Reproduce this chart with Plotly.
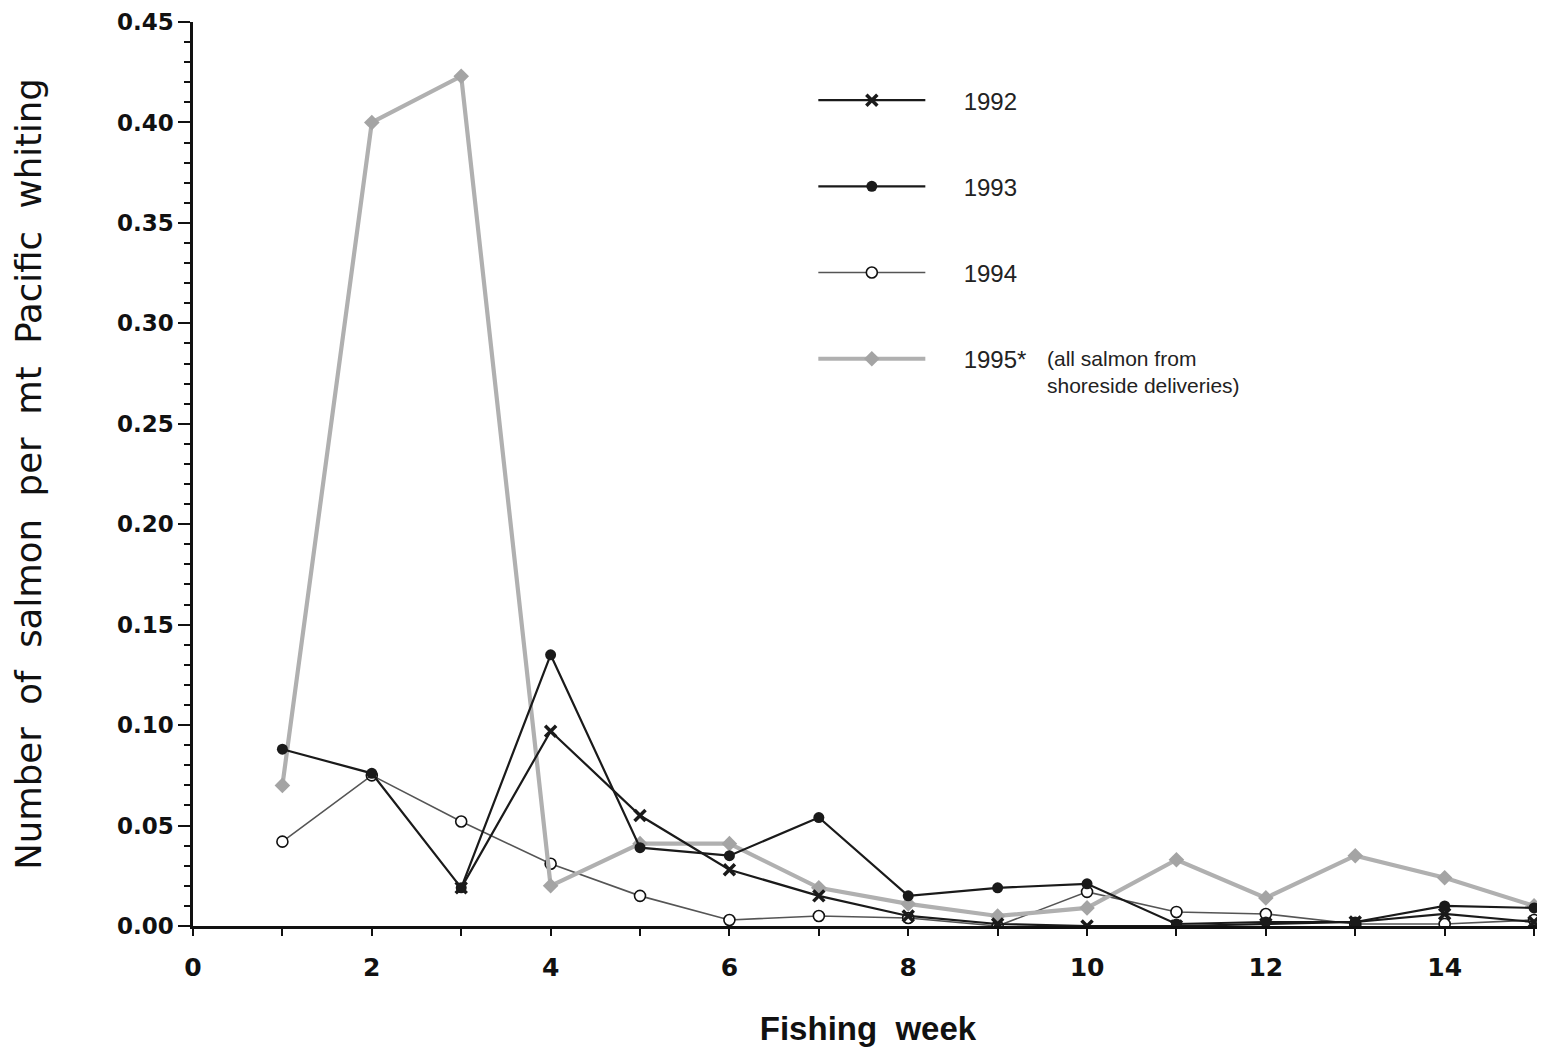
import plotly.graph_objects as go

weeks = list(range(1, 16))
weeks_1992 = list(range(3, 16))
y1992 = [0.019, 0.097, 0.055, 0.028, 0.015, 0.005, 0.001, 0.000, 0.000, 0.001, 0.002, 0.006, 0.002]
y1993 = [0.088, 0.076, 0.019, 0.135, 0.039, 0.035, 0.054, 0.015, 0.019, 0.021, 0.001, 0.002, 0.002, 0.010, 0.009]
y1994 = [0.042, 0.075, 0.052, 0.031, 0.015, 0.003, 0.005, 0.004, 0.000, 0.017, 0.007, 0.006, 0.001, 0.001, 0.003]
y1995 = [0.070, 0.400, 0.423, 0.020, 0.041, 0.041, 0.019, 0.011, 0.005, 0.009, 0.033, 0.014, 0.035, 0.024, 0.010]

x_tickvals = list(range(0, 16))
x_ticktext = ["0", "", "2", "", "4", "", "6", "", "8", "", "10", "", "12", "", "14", ""]
y_tickvals = [0.00, 0.05, 0.10, 0.15, 0.20, 0.25, 0.30, 0.35, 0.40, 0.45]
y_ticktext = ["0.00", "0.05", "0.10", "0.15", "0.20", "0.25", "0.30", "0.35", "0.40", "0.45"]

pad = "\u00a0" * 5

fig = go.Figure()

fig.add_trace(go.Scatter(
    x=weeks, y=y1994, name=pad + "1994", mode="lines+markers", legendrank=3,
    legendgroup="g3",
    line=dict(color="#555555", width=1.6),
    marker=dict(symbol="circle", size=11, color="white", line=dict(color="#111111", width=1.6)),
))
fig.add_trace(go.Scatter(
    x=weeks, y=y1995, name=pad + "1995*", mode="lines+markers", legendrank=4,
    legendgroup="g4",
    line=dict(color="#b0b0b0", width=4.2),
    marker=dict(symbol="diamond", size=12, color="#a4a4a4"),
))
fig.add_trace(go.Scatter(
    x=weeks_1992, y=y1992, name=pad + "1992", mode="lines+markers", legendrank=1,
    legendgroup="g1",
    line=dict(color="#1a1a1a", width=2.2),
    marker=dict(symbol="x-thin", size=11, color="#1a1a1a", line=dict(color="#1a1a1a", width=3.5)),
))
fig.add_trace(go.Scatter(
    x=weeks, y=y1993, name=pad + "1993", mode="lines+markers", legendrank=2,
    legendgroup="g2",
    line=dict(color="#1a1a1a", width=2.2),
    marker=dict(symbol="circle", size=11, color="#1a1a1a"),
))

# the page body adds an 8px offset, so the figure is sized/margined to compensate
fig.update_layout(
    width=1537, height=1042,
    margin=dict(l=185, r=2, t=14, b=124),
    paper_bgcolor="white", plot_bgcolor="white",
    showlegend=True,
    legend=dict(
        x=0.4595, y=0.938, xanchor="left", yanchor="top",
        font=dict(family="Liberation Sans", size=24, color="#222222"),
        itemwidth=107, tracegroupgap=52, bgcolor="rgba(0,0,0,0)",
        traceorder="grouped",
    ),
    annotations=[dict(
        xref="paper", yref="paper", x=0.631, y=0.643, xanchor="left", yanchor="top",
        text="(all salmon from<br>shoreside deliveries)", showarrow=False, align="left",
        font=dict(family="Liberation Sans", size=21, color="#222222"),
    )],
)

fig.update_xaxes(
    range=[0, 15.1], showgrid=False, zeroline=False, automargin=False,
    showline=True, linecolor="#111111", linewidth=2.5,
    tickmode="array", tickvals=x_tickvals, ticktext=x_ticktext,
    ticks="outside", ticklen=7, tickwidth=2, tickcolor="#111111",
    ticklabelstandoff=10,
    tickfont=dict(family="DejaVu Sans", size=25, weight="bold", color="#111111"),
    title=dict(text="Fishing\u00a0\u00a0week", standoff=37,
               font=dict(family="Liberation Sans", size=33, weight="bold", color="#111111")),
)
fig.update_yaxes(
    range=[0, 0.45], showgrid=False, zeroline=False, automargin=False,
    showline=True, linecolor="#111111", linewidth=2.5,
    tickmode="array", tickvals=y_tickvals, ticktext=y_ticktext,
    ticks="outside", ticklen=12, tickwidth=2, tickcolor="#111111",
    minor=dict(dtick=0.01, ticks="outside", ticklen=6, tickwidth=1.5, tickcolor="#111111"),
    tickfont=dict(family="DejaVu Sans", size=23, weight="bold", color="#111111"),
    title=dict(text="Number\u00a0\u00a0of\u00a0\u00a0salmon\u00a0\u00a0per\u00a0\u00a0mt\u00a0\u00a0Pacific\u00a0\u00a0whiting",
               standoff=66,
               font=dict(family="DejaVu Sans", size=35.5, color="#111111")),
)

fig.write_html("out.html")
